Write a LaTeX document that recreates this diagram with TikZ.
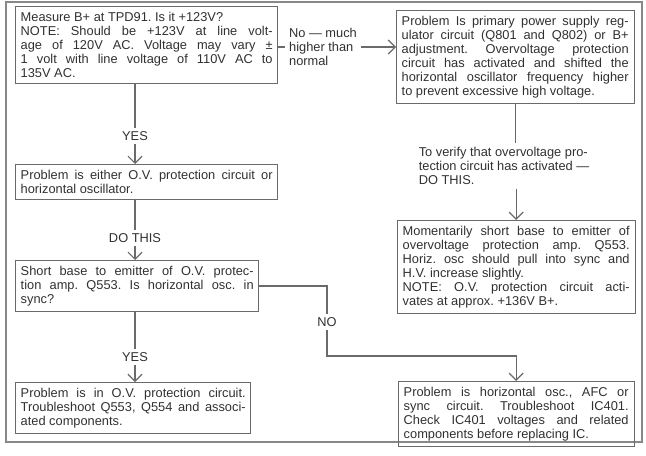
\documentclass[tikz,border=0pt]{standalone}
\usepackage{fontspec}
\setmainfont{Liberation Sans}
\usetikzlibrary{arrows.meta}
\definecolor{ink}{HTML}{303030}
\definecolor{rule}{HTML}{6A6A6A}
\frenchspacing
\begin{document}
\begin{tikzpicture}[x=0.02cm,y=-0.02cm]
        \tikzstyle{box} = [rectangle, anchor=north west, draw=rule, line width=0.5pt, text=ink, align=justify, inner xsep=3pt, inner ysep=3.2pt, font=\fontsize{7.3}{8}\selectfont]
        \tikzstyle{lbl} = [text=ink, align=left, inner sep=2pt, font=\fontsize{7.3}{8}\selectfont]
        \tikzstyle{arrow} = [rule, line width=0.7pt, ->, >={Straight Barb[length=4pt,width=8pt]}]
        \tikzstyle{line} = [rule, line width=0.7pt]

                \useasboundingbox (0,0) rectangle (646,456);
                \draw[rule!80, line width=0.6pt] (6,2) rectangle (642,442);

                \node (b1) [box, text width=5.04cm] at (15,6) {Measure B+ at TPD91. Is it +123V?\newline NOTE: Should be +123V at line volt-\linebreak age of 120V AC. Voltage may vary ±\linebreak 1 volt with line voltage of 110V AC to\linebreak 135V AC.};
                \node (b2) [box, text width=4.54cm] at (396,10) {Problem Is primary power supply reg-\linebreak ulator circuit (Q801 and Q802) or B+\linebreak adjustment. Overvoltage protection\linebreak circuit has activated and shifted the\linebreak horizontal oscillator frequency higher\linebreak to prevent excessive high voltage.};
                \node (b3) [box, text width=5.04cm] at (15,164) {Problem is either O.V. protection circuit or\linebreak horizontal oscillator.};
                \node (b4) [box, text width=4.66cm] at (15,260) {Short base to emitter of O.V. protec-\linebreak tion amp. Q553. Is horizontal osc. in\linebreak sync?};
                \node (b5) [box, text width=4.54cm] at (397,220) {Momentarily short base to emitter of\linebreak overvoltage protection amp. Q553.\linebreak Horiz. osc should pull into sync and\linebreak H.V. increase slightly.\newline NOTE: O.V. protection circuit acti-\linebreak vates at approx. +136V B+.};
                \node (b6) [box, text width=4.5cm] at (398,381) {Problem is horizontal osc., AFC or\linebreak sync circuit. Troubleshoot IC401.\linebreak Check IC401 voltages and related\linebreak components before replacing IC.};
                \node (b7) [box, text width=4.5cm] at (15,382) {Problem is in O.V. protection circuit.\linebreak Troubleshoot Q553, Q554 and associ-\linebreak ated components.};

                \node (hi) [lbl] at (323,47) {No --- much\\higher than\\normal};
                \node (tv) [lbl] at (504,166) {To verify that overvoltage pro-\\tection circuit has activated ---\\DO THIS.};
                \node (yes1) [lbl] at (135,136) {YES};
                \node (dt) [lbl] at (135,238) {DO THIS};
                \node (yes2) [lbl] at (135,357) {YES};
                \node (no) [lbl] at (327,322) {NO};

                \draw[line] (b1.east |- hi) -- (hi.west);
                \draw[arrow] (hi.east) -- (hi.east -| b2.west);
                \draw[line] (b2.south) -- (b2.south |- tv.north);
                \draw[arrow] (tv.south -| b5.north) -- (b5.north);
                \draw[line] (yes1 |- b1.south) -- (yes1.north);
                \draw[arrow] (yes1.south) -- (yes1 |- b3.north);
                \draw[line] (dt |- b3.south) -- (dt.north);
                \draw[arrow] (dt.south) -- (dt |- b4.north);
                \draw[line] (yes2 |- b4.south) -- (yes2.north);
                \draw[arrow] (yes2.south) -- (yes2 |- b7.north);
                \draw[line] (b4.east) -| (no.north);
                \draw[arrow] (no.south) |- ([yshift=0.5cm]b6.north) -- (b6.north);

    \end{tikzpicture}
\end{document}
